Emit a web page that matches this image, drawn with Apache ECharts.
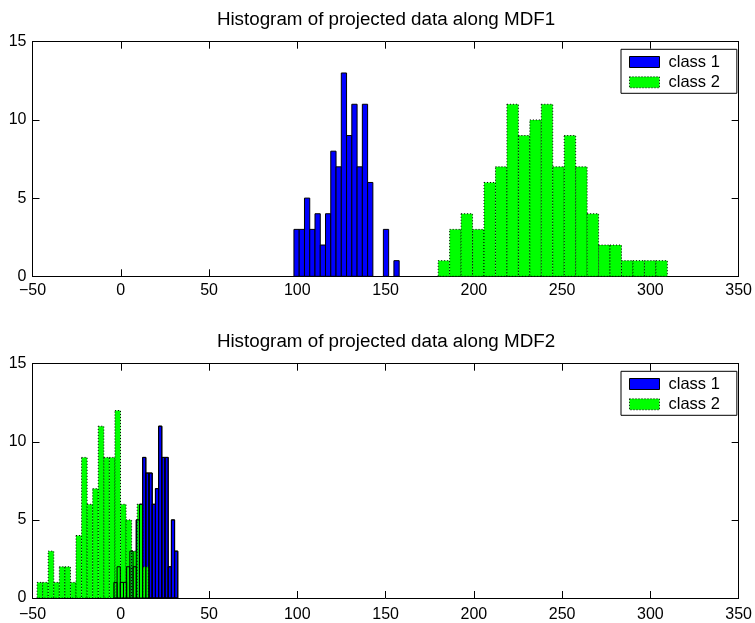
<!DOCTYPE html>
<html>
<head>
<meta charset="utf-8">
<script src="https://cdn.jsdelivr.net/npm/echarts@6/dist/echarts.min.js"></script>
<style>
  html, body { margin: 0; padding: 0; background: #fff; }
  #chart { width: 755px; height: 623px; }
</style>
</head>
<body>
<div id="chart"></div>
<script>
const xRange = [-50, 350];
const xStep = 50;
const yRange = [0, 15];
const yStep = 5;
const titles = ["Histogram of projected data along MDF1", "Histogram of projected data along MDF2"];
const classNames = ["class 1", "class 2"];

// counts per bin; bins = [first edge, bin width]
const mdf1Class1Counts = [3, 3, 5, 3, 4, 2, 4, 8, 7, 13, 9, 11, 7, 11, 6, 0, 0, 3, 0, 1];
const mdf1Class1Bins = [98.1, 2.98];
const mdf1Class2Counts = [1, 3, 4, 3, 6, 7, 11, 9, 10, 11, 7, 9, 7, 4, 2, 2, 1, 1, 1, 1];
const mdf1Class2Bins = [179.8, 6.49];

const mdf2Class1Counts = [1, 2, 1, 1, 2, 3, 2, 5, 6, 9, 8, 8, 6, 7, 11, 9, 9, 2, 5, 3];
const mdf2Class1Bins = [-3.9, 1.81];
const mdf2Class2Counts = [1, 1, 3, 1, 2, 2, 1, 4, 9, 6, 7, 11, 9, 9, 12, 6, 5, 3, 6, 2];
const mdf2Class2Bins = [-47.4, 3.15];

const FONT = "Liberation Sans";
const BLUE = "#0000ff";
const GREEN = "#00ff00";

function toBins(counts, bins) {
  return counts.map((c, i) => [bins[0] + i * bins[1], bins[0] + (i + 1) * bins[1], c]);
}

function histSeries(name, data, gi, style) {
  return {
    type: "custom",
    name: name,
    xAxisIndex: gi * 2,
    yAxisIndex: gi * 2,
    silent: true,
    encode: { x: [0, 1], y: 2 },
    data: data.filter((d) => d[2] > 0),
    renderItem: function (params, api) {
      const p0 = api.coord([api.value(0), api.value(2)]);
      const p1 = api.coord([api.value(1), 0]);
      return {
        type: "rect",
        shape: { x: p0[0], y: p0[1], width: p1[0] - p0[0], height: p1[1] - p0[1] },
        style: style,
      };
    },
  };
}

const blueStyle = { fill: BLUE, stroke: "#000", lineWidth: 1 };
const greenStyle = { fill: GREEN, stroke: "#000", lineWidth: 1, lineDash: [1, 2] };
const edgeStyle = { fill: "none", stroke: "#000", lineWidth: 1 };

const grids = [
  { left: 32.5, right: 15, top: 41.7, height: 234.6 },
  { left: 32.5, right: 15, top: 363.7, height: 235.3 },
];
const xLabelMargins = [6, 9];

const tick = { show: true, inside: true, length: 7, lineStyle: { color: "#000", width: 1 } };
const line = { show: true, onZero: false, lineStyle: { color: "#000", width: 1 } };
const label = { color: "#000", fontFamily: FONT, fontSize: 16 };

function xAxes(gi) {
  const base = {
    type: "value", gridIndex: gi, min: xRange[0], max: xRange[1], interval: xStep,
    axisLine: line, axisTick: tick, splitLine: { show: false },
  };
  return [
    Object.assign({}, base, {
      position: "bottom",
      axisLabel: Object.assign({ margin: xLabelMargins[gi], formatter: (v) => String(v).replace("-", "\u2212") }, label),
    }),
    Object.assign({}, base, { position: "top", axisLabel: { show: false } }),
  ];
}

function yAxes(gi) {
  const base = {
    type: "value", gridIndex: gi, min: yRange[0], max: yRange[1], interval: yStep,
    axisLine: line, axisTick: tick, splitLine: { show: false },
  };
  return [
    Object.assign({}, base, { position: "left", axisLabel: Object.assign({ margin: 6 }, label) }),
    Object.assign({}, base, { position: "right", axisLabel: { show: false } }),
  ];
}

function legend(top) {
  return {
    left: 621,
    top: top,
    orient: "vertical",
    backgroundColor: "#fff",
    borderColor: "#000",
    borderWidth: 1,
    padding: [4.2, 17, 2.5, 8],
    itemWidth: 30,
    itemHeight: 11,
    itemGap: 3.3,
    selectedMode: false,
    textStyle: { color: "#000", fontFamily: FONT, fontSize: 16.5, lineHeight: 12, padding: [0, 0, 0, 4] },
    data: [
      { name: classNames[0], icon: "rect", itemStyle: { color: BLUE, borderColor: "#000", borderWidth: 1 } },
      { name: classNames[1], icon: "rect", itemStyle: { color: GREEN, borderColor: "#000", borderWidth: 1, borderType: [1, 2] } },
    ],
  };
}

const chart = echarts.init(document.getElementById("chart"), null, { renderer: "canvas" });

chart.setOption({
  animation: false,
  backgroundColor: "#fff",
  title: [
    { text: titles[0], left: 386, top: 10, textAlign: "center", padding: 0,
      textStyle: { color: "#000", fontFamily: FONT, fontSize: 18.8, fontWeight: "normal" } },
    { text: titles[1], left: 386, top: 332, textAlign: "center", padding: 0,
      textStyle: { color: "#000", fontFamily: FONT, fontSize: 18.8, fontWeight: "normal" } },
  ],
  legend: [legend(49.3), legend(371.3)],
  grid: grids,
  xAxis: xAxes(0).concat(xAxes(1)),
  yAxis: yAxes(0).concat(yAxes(1)),
  series: [
    histSeries(classNames[0], toBins(mdf1Class1Counts, mdf1Class1Bins), 0, blueStyle),
    histSeries(classNames[1], toBins(mdf1Class2Counts, mdf1Class2Bins), 0, greenStyle),
    histSeries(classNames[0], toBins(mdf2Class1Counts, mdf2Class1Bins), 1, blueStyle),
    histSeries(classNames[1], toBins(mdf2Class2Counts, mdf2Class2Bins), 1, greenStyle),
    histSeries(classNames[0], toBins(mdf2Class1Counts, mdf2Class1Bins), 1, edgeStyle),
  ],
});
</script>
</body>
</html>
